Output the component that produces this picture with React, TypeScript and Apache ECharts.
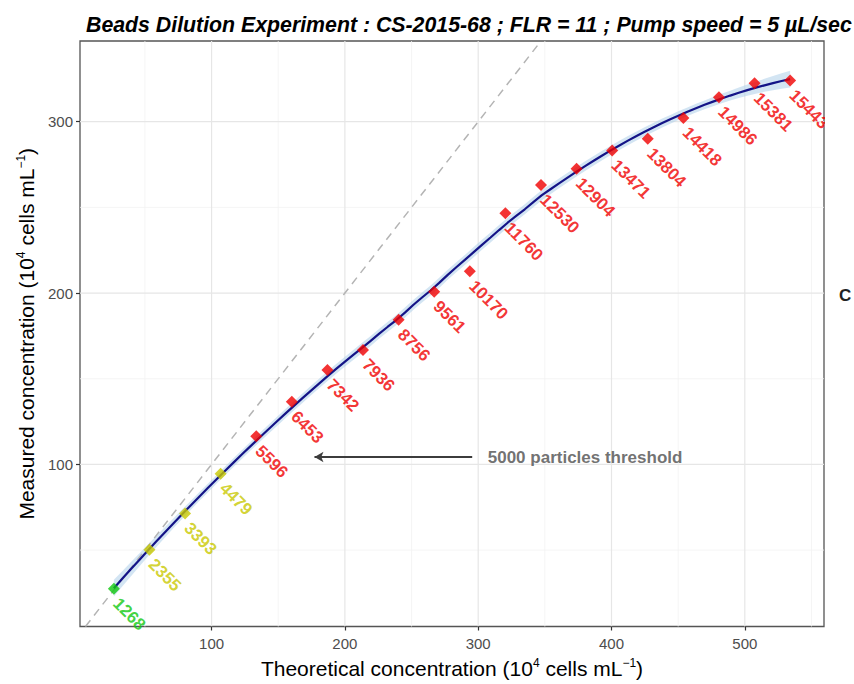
import React, { useEffect, useRef } from 'react';
import * as echarts from 'echarts';

// ---- data ----
const THEORETICAL = [26.7, 53.4, 80.1, 106.8, 133.5, 160.2, 186.9, 213.6, 240.3, 267.0, 293.7, 320.4, 347.1, 373.8, 400.5, 427.2, 453.9, 480.6, 507.3, 534.0];
const MEASURED = [27.4, 50.2, 71.4, 94.6, 116.4, 136.5, 155.1, 166.8, 184.4, 200.8, 212.7, 246.6, 263.0, 272.6, 283.2, 290.0, 302.2, 314.3, 322.4, 324.0];
const COUNTS = [1268, 2355, 3393, 4479, 5596, 6453, 7342, 7936, 8756, 9561, 10170, 11760, 12530, 12904, 13471, 13804, 14418, 14986, 15381, 15443];

const X_TICKS = [100, 200, 300, 400, 500];
const Y_TICKS = [100, 200, 300];
const X_MINOR = [50, 150, 250, 350, 450, 550];
const Y_MINOR = [50, 150, 250];
const X_LIMITS = [1.3, 559.4];
const Y_LIMITS = [5.4, 347.1];

const GREEN_MAX = 2000;
const THRESHOLD = 5000;
const ARROW_FROM = [295.5, 104.3];
const ARROW_TO = [177.2, 104.3];
const ANNOT_AT = [306.8, 104.3];
const ANNOT_TEXT = '5000 particles threshold';
const TITLE = 'Beads Dilution Experiment : CS-2015-68 ; FLR = 11 ; Pump speed = 5 \u00b5L/sec';
const LEGEND_STUB = 'C';

const LOESS_SPAN = 0.75;
const BAND_T = 1.6;
const N_SMOOTH = 80;

const FONT = '"Liberation Sans", Arial, Helvetica, sans-serif';
const COL_GREEN = '#10C810';
const COL_YELLOW = '#C8C800';
const COL_RED = '#F00000';

// ---- local quadratic regression (loess) ----
function smootherWeights(x0: number, xs: number[]): number[] {
  const n = xs.length;
  const q = Math.max(3, Math.floor(n * LOESS_SPAN));
  const dist = xs.map((x) => Math.abs(x - x0));
  const h = [...dist].sort((a, b) => a - b)[q - 1] * 1.0001;
  const w = dist.map((d) => {
    const u = d / h;
    return u < 1 ? Math.pow(1 - u * u * u, 3) : 0;
  });
  const S = [0, 0, 0, 0, 0];
  xs.forEach((x, i) => {
    const t = x - x0;
    let p = 1;
    for (let k = 0; k < 5; k++) {
      S[k] += w[i] * p;
      p *= t;
    }
  });
  const a = S[0], b = S[1], c = S[2], d = S[1], e = S[2], f = S[3], g = S[2], hh = S[3], i9 = S[4];
  const A = e * i9 - f * hh;
  const B = -(d * i9 - f * g);
  const C = d * hh - e * g;
  const det = a * A + b * B + c * C;
  const D = -(b * i9 - c * hh);
  const G = b * f - c * e;
  const r0 = A / det, r1 = D / det, r2 = G / det;
  return xs.map((x, i) => {
    const t = x - x0;
    return w[i] * (r0 + r1 * t + r2 * t * t);
  });
}

function loessFit(xs: number[], ys: number[]) {
  const n = xs.length;
  let trace = 0;
  let rss = 0;
  xs.forEach((x, i) => {
    const l = smootherWeights(x, xs);
    const yh = l.reduce((s, li, j) => s + li * ys[j], 0);
    trace += l[i];
    rss += (ys[i] - yh) * (ys[i] - yh);
  });
  const s = Math.sqrt(rss / (n - trace));
  const lo = Math.min(...xs);
  const hi = Math.max(...xs);
  const out: { x: number; y: number; lo: number; hi: number }[] = [];
  for (let k = 0; k < N_SMOOTH; k++) {
    const x0 = lo + ((hi - lo) * k) / (N_SMOOTH - 1);
    const l = smootherWeights(x0, xs);
    const yh = l.reduce((acc, li, j) => acc + li * ys[j], 0);
    const se = s * Math.sqrt(l.reduce((acc, li) => acc + li * li, 0));
    out.push({ x: x0, y: yh, lo: yh - BAND_T * se, hi: yh + BAND_T * se });
  }
  return out;
}

function pointColor(count: number) {
  if (count < GREEN_MAX) return COL_GREEN;
  if (count < THRESHOLD) return COL_YELLOW;
  return COL_RED;
}

function gridSeries(values: number[], vertical: boolean, color: string, width: number) {
  return {
    type: 'custom',
    coordinateSystem: 'cartesian2d',
    silent: true,
    z: 0,
    data: values.map((v) => (vertical ? [v, Y_LIMITS[0]] : [X_LIMITS[0], v])),
    renderItem: (_p: any, api: any) => {
      const v = api.value(vertical ? 0 : 1);
      const p1 = vertical ? api.coord([v, Y_LIMITS[0]]) : api.coord([X_LIMITS[0], v]);
      const p2 = vertical ? api.coord([v, Y_LIMITS[1]]) : api.coord([X_LIMITS[1], v]);
      return {
        type: 'line',
        shape: { x1: p1[0], y1: p1[1], x2: p2[0], y2: p2[1] },
        style: { stroke: color, lineWidth: width },
      };
    },
  };
}

const richName = {
  t: { fontSize: 21, fontFamily: FONT, color: '#000', lineHeight: 24 },
  s: { fontSize: 12, fontFamily: FONT, color: '#000', verticalAlign: 'top', lineHeight: 24, padding: [0, 0, 6, 0] },
};

export default function App() {
  const ref = useRef<HTMLDivElement>(null);
  useEffect(() => {
    if (!ref.current) return;
    const chart = echarts.init(ref.current, undefined, { renderer: 'svg' });
    const fit = loessFit(THEORETICAL, MEASURED);
    const d0 = Math.max(X_LIMITS[0], Y_LIMITS[0]);
    const d1 = Math.min(X_LIMITS[1], Y_LIMITS[1]);

    const points = THEORETICAL.map((x, i) => {
      const c = pointColor(COUNTS[i]);
      return { value: [x, MEASURED[i]], itemStyle: { color: c }, label: { color: c } };
    });

    chart.setOption({
      animation: false,
      backgroundColor: '#fff',
      title: {
        text: TITLE,
        left: 81,
        top: 9,
        textStyle: { fontFamily: FONT, fontSize: 21.3, fontWeight: 'bold', fontStyle: 'italic', color: '#000' },
      },
      grid: {
        left: 80,
        right: 30,
        top: 41,
        bottom: 53,
        show: true,
        borderColor: '#555',
        borderWidth: 1.3,
        backgroundColor: '#fff',
      },
      xAxis: {
        type: 'value',
        min: X_LIMITS[0],
        max: X_LIMITS[1],
        name: '{t|Theoretical concentration (10}{s|4}{t| cells mL}{s|\u22121}{t|)}',
        nameLocation: 'middle',
        nameGap: 30,
        nameTextStyle: { rich: richName },
        axisLine: { show: false },
        axisTick: { show: true, customValues: X_TICKS, length: 4, lineStyle: { color: '#333', width: 1.2 } },
        axisLabel: { customValues: X_TICKS, fontSize: 15, color: '#4D4D4D', fontFamily: FONT, margin: 9 },
        splitLine: { show: false },
      },
      yAxis: {
        type: 'value',
        min: Y_LIMITS[0],
        max: Y_LIMITS[1],
        name: '{t|Measured concentration (10}{s|4}{t| cells mL}{s|\u22121}{t|)}',
        nameLocation: 'middle',
        nameRotate: 90,
        nameGap: 36,
        nameTextStyle: { rich: richName },
        axisLine: { show: false },
        axisTick: { show: true, customValues: Y_TICKS, length: 4, lineStyle: { color: '#333', width: 1.2 } },
        axisLabel: { customValues: Y_TICKS, fontSize: 15, color: '#4D4D4D', fontFamily: FONT, margin: 7 },
        splitLine: { show: false },
      },
      series: [
        gridSeries(X_MINOR, true, '#F3F3F3', 0.8),
        gridSeries(Y_MINOR, false, '#F3F3F3', 0.8),
        gridSeries(X_TICKS, true, '#E6E6E6', 1.2),
        gridSeries(Y_TICKS, false, '#E6E6E6', 1.2),
        {
          type: 'custom',
          coordinateSystem: 'cartesian2d',
          silent: true,
          z: 1,
          data: [[fit[0].x, fit[0].y]],
          renderItem: (_p: any, api: any) => {
            const upper = fit.map((p) => api.coord([p.x, p.hi]));
            const lower = fit.map((p) => api.coord([p.x, p.lo])).reverse();
            return {
              type: 'polygon',
              shape: { points: upper.concat(lower) },
              style: { fill: 'rgba(175,208,234,0.55)' },
            };
          },
        },
        {
          type: 'line',
          data: [[d0, d0], [d1, d1]],
          symbol: 'none',
          silent: true,
          z: 2,
          lineStyle: { color: '#B4B4B4', width: 1.5, type: [8, 6] },
        },
        {
          type: 'line',
          data: fit.map((p) => [p.x, p.y]),
          symbol: 'none',
          silent: true,
          z: 3,
          lineStyle: { color: '#141487', width: 2.2 },
        },
        {
          type: 'line',
          data: [ARROW_FROM],
          symbol: 'none',
          silent: true,
          z: 3,
          markLine: {
            silent: true,
            symbol: ['none', 'arrow'],
            symbolSize: [8, 9],
            label: { show: false },
            lineStyle: { color: '#3C3C3C', width: 2, type: 'solid' },
            data: [[{ coord: ARROW_FROM }, { coord: ARROW_TO }]],
          },
        },
        {
          type: 'scatter',
          data: [ANNOT_AT],
          symbolSize: 1,
          silent: true,
          itemStyle: { color: 'rgba(0,0,0,0)' },
          z: 4,
          label: {
            show: true,
            position: 'right',
            distance: 0,
            formatter: ANNOT_TEXT,
            fontFamily: FONT,
            fontSize: 17,
            fontWeight: 'bold',
            color: '#4D4D4D',
          },
        },
        {
          type: 'scatter',
          data: points,
          symbol: 'diamond',
          symbolSize: 12,
          silent: true,
          z: 5,
          label: {
            show: true,
            position: [8, 18],
            align: 'left',
            verticalAlign: 'middle',
            rotate: -45,
            fontFamily: FONT,
            fontSize: 17,
            fontWeight: 'bold',
            formatter: (p: any) => String(COUNTS[p.dataIndex]),
          },
        },
      ],
      graphic: [
        {
          type: 'rect',
          z: 100,
          silent: true,
          shape: { x: 825, y: 42, width: 29, height: 150 },
          style: { fill: '#fff' },
        },
        {
          type: 'text',
          z: 101,
          silent: true,
          x: 839,
          y: 287,
          style: { text: LEGEND_STUB, fontFamily: FONT, fontSize: 17, fontWeight: 'bold', fill: '#222' },
        },
      ],
    });
    return () => chart.dispose();
  }, []);
  return <div ref={ref} style={{ position: 'absolute', left: 0, top: 0, width: 854, height: 684 }} />;
}
